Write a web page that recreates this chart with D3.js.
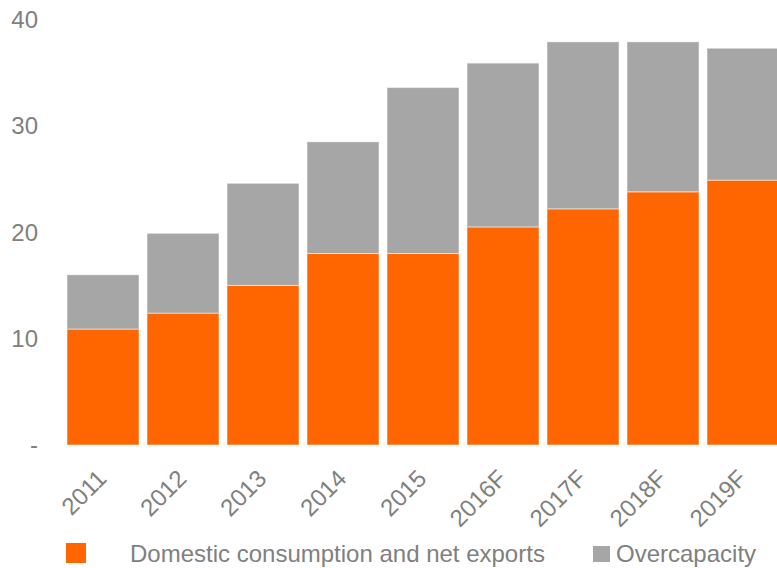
<!DOCTYPE html>
<html>
<head>
<meta charset="utf-8">
<script src="https://cdn.jsdelivr.net/npm/d3@7"></script>
<style>
  body { margin: 0; background: #fff; }
  text { font-family: "Liberation Sans", Arial, sans-serif; fill: #808080; }
</style>
</head>
<body>
<script>
// data
var years = ["2011", "2012", "2013", "2014", "2015", "2016F", "2017F", "2018F", "2019F"];
var domestic = [10.9, 12.4, 15.0, 18.0, 18.0, 20.5, 22.2, 23.8, 24.9];
var total = [16.0, 19.9, 24.6, 28.5, 33.6, 35.9, 37.9, 37.9, 37.3];
var overcapacity = total.map(function(t, i) { return +(t - domestic[i]).toFixed(1); });
var yTicks = [0, 10, 20, 30, 40];
var seriesNames = ["Domestic consumption and net exports", "Overcapacity"];
var colors = ["#ff6600", "#a6a6a6"];

var width = 777, height = 568;

var svg = d3.select("body").append("svg")
    .attr("width", width)
    .attr("height", height);

var x = d3.scaleBand()
    .domain(years)
    .range([67, 779])
    .paddingInner(0.1)
    .paddingOuter(0);

var y = d3.scaleLinear()
    .domain([0, 40])
    .range([445, 19.5]);

// stacked rows
var rows = years.map(function(yr, i) {
    return { year: yr, domestic: domestic[i], overcapacity: overcapacity[i] };
});
var stack = d3.stack().keys(["domestic", "overcapacity"]);
var layers = stack(rows);

svg.selectAll("g.layer")
    .data(layers)
    .enter()
    .append("g")
    .attr("class", "layer")
    .attr("fill", function(d, i) { return colors[i]; })
    .selectAll("rect")
    .data(function(d) { return d; })
    .enter()
    .append("rect")
    .attr("x", function(d) { return x(d.data.year); })
    .attr("width", x.bandwidth())
    .attr("y", function(d) { return y(d[1]); })
    .attr("height", function(d) { return y(d[0]) - y(d[1]); })
    .attr("stroke", "#ffffff")
    .attr("stroke-opacity", 0.5)
    .attr("stroke-width", 1);

// y axis labels only
svg.append("g")
    .selectAll("text")
    .data(yTicks)
    .enter()
    .append("text")
    .attr("x", 38)
    .attr("y", function(d) { return y(d); })
    .attr("dy", "0.35em")
    .attr("text-anchor", "end")
    .style("font-size", "24px")
    .text(function(d) { return d === 0 ? "-" : d; });

// x labels, rotated
svg.append("g")
    .selectAll("text")
    .data(years)
    .enter()
    .append("text")
    .attr("text-anchor", "end")
    .style("font-size", "24px")
    .attr("transform", function(d) {
        return "translate(" + (x(d) + x.bandwidth() / 2 + 5) + ",480) rotate(-45)";
    })
    .text(function(d) { return d; });

// legend
var legend = svg.append("g");
legend.append("rect")
    .attr("x", 66).attr("y", 543)
    .attr("width", 20).attr("height", 20)
    .attr("fill", colors[0]);
legend.append("text")
    .attr("x", 130).attr("y", 562)
    .style("font-size", "24px")
    .text(seriesNames[0]);
legend.append("rect")
    .attr("x", 593).attr("y", 546)
    .attr("width", 17).attr("height", 16)
    .attr("fill", colors[1]);
legend.append("text")
    .attr("x", 616).attr("y", 562)
    .style("font-size", "24px")
    .text(seriesNames[1]);
</script>
</body>
</html>
